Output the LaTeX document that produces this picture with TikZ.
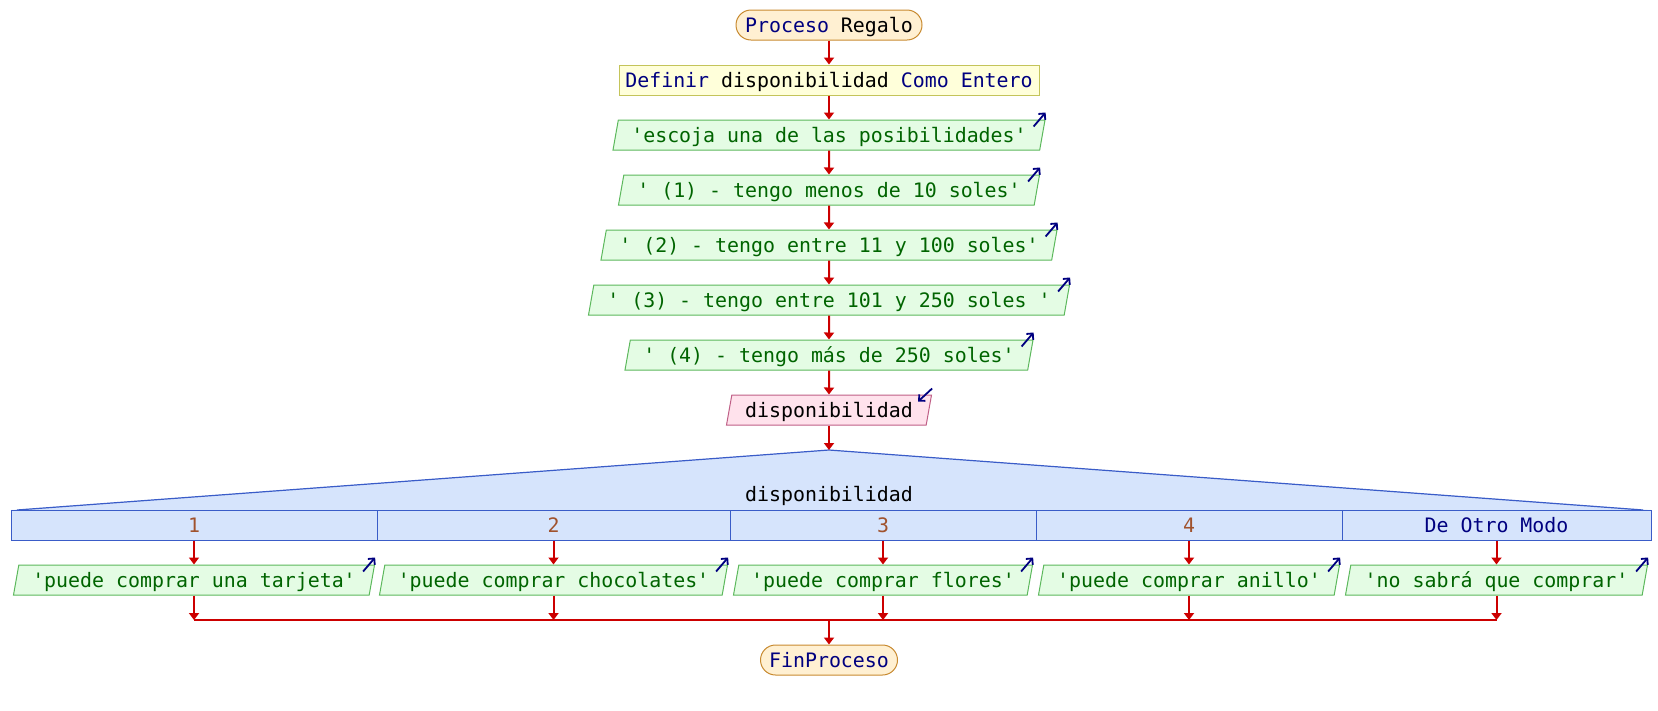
\documentclass[tikz,border=0pt]{standalone}
\usepackage{fontspec}
\setmonofont{DejaVu Sans Mono}
\usetikzlibrary{shapes.geometric,arrows.meta}
\definecolor{navy}{HTML}{000080}
\definecolor{connred}{HTML}{CC0000}
\definecolor{termfill}{HTML}{FFF0D2}
\definecolor{termborder}{HTML}{C88A30}
\definecolor{deffill}{HTML}{FFFFDA}
\definecolor{defborder}{HTML}{C4C45A}
\definecolor{outfill}{HTML}{E4FCE4}
\definecolor{outborder}{HTML}{5CB85C}
\definecolor{outtext}{HTML}{006400}
\definecolor{infill}{HTML}{FFE2EC}
\definecolor{inborder}{HTML}{BF5F86}
\definecolor{swfill}{HTML}{D6E4FC}
\definecolor{swborder}{HTML}{3A5CC8}
\definecolor{numtext}{HTML}{A0522D}
\begin{document}
\begin{tikzpicture}[x=1pt,y=-1pt,
  font={\ttfamily\fontsize{19.9pt}{24pt}\selectfont},
  every node/.style={inner sep=0pt, text height=14.6pt, text depth=0pt},
  term/.style={rectangle, rounded corners=15pt, draw=termborder, fill=termfill, line width=1pt, minimum height=30pt, text=navy},
  defbox/.style={rectangle, draw=defborder, fill=deffill, line width=1pt, minimum height=30pt},
  paral/.style={trapezium, trapezium left angle=70, trapezium right angle=110, trapezium stretches body, minimum height=30pt, line width=1pt},
  outbox/.style={paral, draw=outborder, fill=outfill, text=outtext},
  inbox/.style={paral, draw=inborder, fill=infill, text=black},
  cell/.style={rectangle, draw=swborder, fill=swfill, line width=1pt, minimum height=30pt},
  conn/.style={draw=connred, line width=2pt, -{Triangle[width=10pt,length=7pt]}},
  plainline/.style={draw=connred, line width=2pt},
  icon/.style={draw=navy, line width=1.8pt, -{Straight Barb[length=4.5pt,width=9pt]}}
]
\useasboundingbox (0,0) rectangle (1658,710);

% main column
\node[term, minimum width=186pt] (start) at (829,25) {Proceso \textcolor{black}{Regalo}};
\node[defbox, minimum width=420pt] (def) at (829,80) {\textcolor{navy}{Definir} disponibilidad \textcolor{navy}{Como Entero}};
\node[outbox, minimum width=432pt] (e0) at (829,135) {'escoja una de las posibilidades'};
\node[outbox, minimum width=421pt] (e1) at (829,190) {' (1) - tengo menos de 10 soles'};
\node[outbox, minimum width=456pt] (e2) at (829,245) {' (2) - tengo entre 11 y 100 soles'};
\node[outbox, minimum width=481pt] (e3) at (829,300) {' (3) - tengo entre 101 y 250 soles '};
\node[outbox, minimum width=408pt] (e4) at (829,355) {' (4) - tengo más de 250 soles'};
\node[inbox, minimum width=205pt] (rd) at (829,410) {disponibilidad};

% switch
\coordinate (sw) at (829,450);
\coordinate (swl) at (11,510);
\coordinate (swr) at (1651,510);
\fill[swfill] (swl) -- (sw) -- (swr) -- cycle;
\draw[swborder, line width=1.2pt] ([xshift=6pt]swl) -- (sw) -- ([xshift=-8pt]swr);
\node (swlabel) at (829,494) {disponibilidad};
\node[cell, minimum width=366pt] (c1) at (194,525) {\textcolor{numtext}{1}};
\node[cell, minimum width=353pt] (c2) at (553.5,525) {\textcolor{numtext}{2}};
\node[cell, minimum width=306pt] (c3) at (883,525) {\textcolor{numtext}{3}};
\node[cell, minimum width=306pt] (c4) at (1189,525) {\textcolor{numtext}{4}};
\node[cell, minimum width=309pt] (c5) at (1496.5,525) {\textcolor{navy}{De Otro Modo}};

% outputs of the cases
\node[outbox, minimum width=361pt] (o1) at (194,580) {'puede comprar una tarjeta'};
\node[outbox, minimum width=348pt] (o2) at (553.5,580) {'puede comprar chocolates'};
\node[outbox, minimum width=299pt] (o3) at (883,580) {'puede comprar flores'};
\node[outbox, minimum width=301pt] (o4) at (1189,580) {'puede comprar anillo'};
\node[outbox, minimum width=302pt] (o5) at (1496.5,580) {'no sabrá que comprar'};

\node[term, minimum width=137pt] (fin) at (829,660) {FinProceso};
\coordinate (hy) at (0,620);

% icons
\foreach \n in {e0,e1,e2,e3,e4,o1,o2,o3,o4,o5}{
  \draw[icon] ([shift={(-12,7)}]\n.top right corner) -- ([shift={(0,-7)}]\n.top right corner);
}
\draw[icon] ([shift={(0,-6)}]rd.top right corner) -- ([shift={(-14,7)}]rd.top right corner);

% connectors
\draw[conn] (start) -- (def);
\draw[conn] (def) -- (e0);
\draw[conn] (e0) -- (e1);
\draw[conn] (e1) -- (e2);
\draw[conn] (e2) -- (e3);
\draw[conn] (e3) -- (e4);
\draw[conn] (e4) -- (rd);
\draw[conn] (rd) -- (sw);
\foreach \i in {1,...,5}{
  \draw[conn] (c\i) -- (o\i);
  \draw[conn] (o\i.south) -- (o\i.south |- hy);
}
\draw[plainline] (o1.south |- hy) -- (o5.south |- hy);
\draw[conn] (fin.north |- hy) -- (fin);
\end{tikzpicture}
\end{document}
